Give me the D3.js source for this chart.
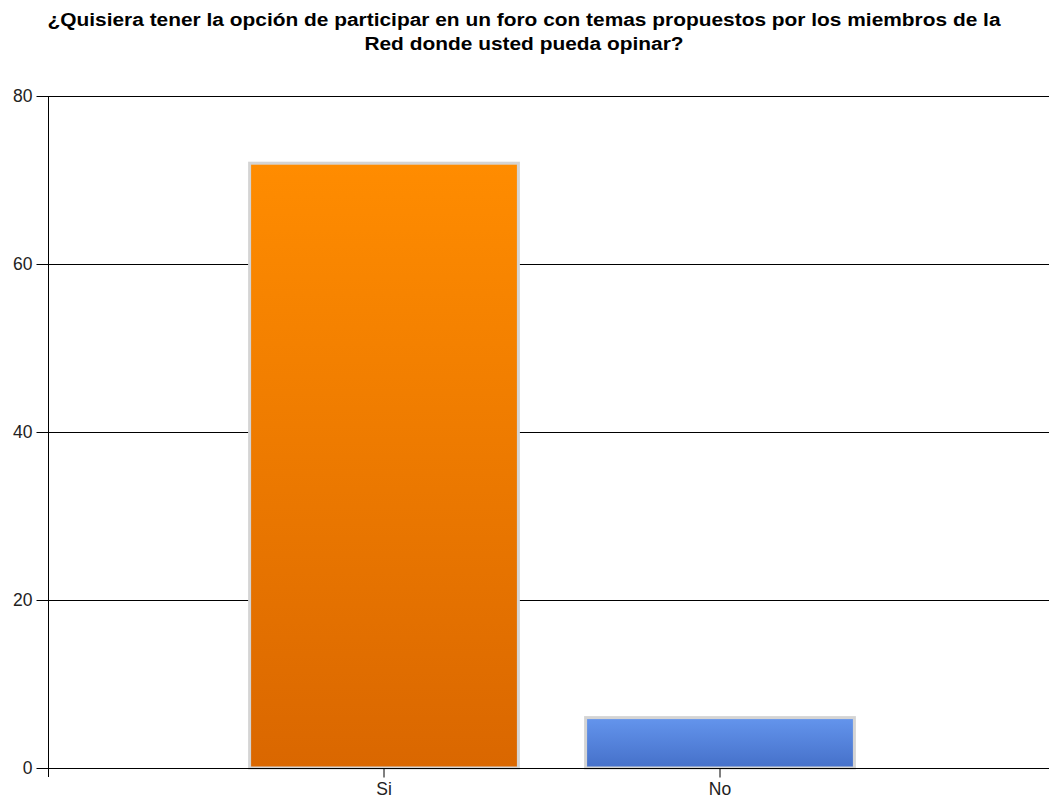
<!DOCTYPE html>
<html><head><meta charset="utf-8">
<script src="https://cdn.jsdelivr.net/npm/d3@7"></script>
<style>body{margin:0;background:#fff;}svg{display:block;font-family:"DejaVu Sans",sans-serif;}</style>
</head><body>
<svg id="c" width="1049" height="803"></svg>
<script>
const titleLines = ["¿Quisiera tener la opción de participar en un foro con temas propuestos por los miembros de la", "Red donde usted pueda opinar?"];
const categories = ["Si", "No"];
const values = [72, 6];
const yTicks = [0, 20, 40, 60, 80];
const colorsTop = ["#ff8c00", "#6495ed"];
const colorsBottom = ["#da6700", "#4570c9"];

const svg = d3.select("#c");
const mLeft = 48, mRight = 1056, mTop = 96, mBottom = 768;
const x = d3.scaleBand().domain(categories).range([mLeft, mRight]).paddingInner(0.2).paddingOuter(0.6);
const y = d3.scaleLinear().domain([0, 80]).range([mBottom, mTop]);

const defs = svg.append("defs");
categories.forEach((c, i) => {
  const g = defs.append("linearGradient").attr("id", "g" + i).attr("x1", 0).attr("y1", 0).attr("x2", 0).attr("y2", 1);
  g.append("stop").attr("offset", "0%").attr("stop-color", colorsTop[i]);
  g.append("stop").attr("offset", "100%").attr("stop-color", colorsBottom[i]);
});

const tt = svg.append("g").selectAll("text").data(titleLines).join("text")
  .attr("x", 524).attr("y", (d, i) => 26 + i * 24)
  .attr("text-anchor", "middle").attr("font-size", 18).attr("font-weight", "bold").attr("fill", "#000")
  .attr("font-family", "Liberation Sans, Arial, sans-serif")
  .text(d => d);
// fit first title line to the reference width
const w1 = tt.nodes()[0].getComputedTextLength();
const s = 953 / w1;
tt.each(function() { const w = this.getComputedTextLength(); d3.select(this).attr("textLength", w * s).attr("lengthAdjust", "spacingAndGlyphs"); });

// gridlines
svg.append("g").selectAll("line").data(yTicks.filter(t => t > 0)).join("line")
  .attr("x1", mLeft).attr("x2", 1049).attr("y1", d => Math.round(y(d)) + 0.5).attr("y2", d => Math.round(y(d)) + 0.5)
  .attr("stroke", "#000").attr("stroke-width", 1);

// bars
svg.append("g").selectAll("rect").data(values).join("rect")
  .attr("x", (d, i) => x(categories[i]))
  .attr("y", d => y(d))
  .attr("width", x.bandwidth())
  .attr("height", d => mBottom - y(d))
  .attr("fill", (d, i) => `url(#g${i})`)
  .attr("stroke", "#d4d4d4").attr("stroke-width", 3);

// y axis
const yAxis = d3.axisLeft(y).tickValues(yTicks).tickSize(12).tickPadding(4);
const gy = svg.append("g").attr("transform", `translate(${mLeft + 0.5},0)`).call(yAxis);
gy.select(".domain").remove();
gy.append("line").attr("x1", 0).attr("x2", 0).attr("y1", mTop).attr("y2", mBottom + 9).attr("stroke", "#000");
gy.selectAll("text").attr("font-size", 17.5).attr("fill", "#222").attr("font-family", "Liberation Sans, Arial, sans-serif");

// x axis
const xAxis = d3.axisBottom(x).tickSize(9).tickPadding(5);
const gx = svg.append("g").attr("transform", `translate(0,${mBottom + 0.5})`).call(xAxis);
gx.select(".domain").remove();
gx.append("line").attr("x1", mLeft).attr("x2", 1049).attr("y1", 0).attr("y2", 0).attr("stroke", "#000");
gx.selectAll("text").attr("font-size", 17.5).attr("fill", "#222").attr("font-family", "Liberation Sans, Arial, sans-serif");
</script>
</body></html>
